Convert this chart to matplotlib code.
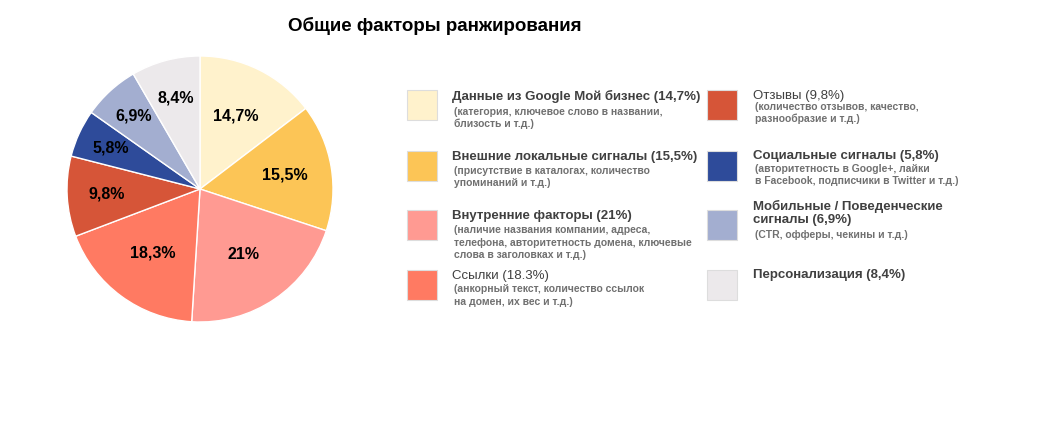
import matplotlib.pyplot as plt
from matplotlib.patches import Rectangle

plt.rcParams['font.family'] = ['Liberation Sans', 'DejaVu Sans']

# Data
shares = [14.7, 15.5, 21, 18.3, 9.8, 5.8, 6.9, 8.4]
pct_labels = ["14,7%", "15,5%", "21%", "18,3%", "9,8%", "5,8%", "6,9%", "8,4%"]
colors = ["#FFF2CC", "#FCC556", "#FF9A92", "#FF7A62", "#D65538", "#2E4B9A", "#A3AED0", "#ECE9EB"]

headings = [
    ["Данные из Google Мой бизнес (14,7%)"],
    ["Внешние локальные сигналы (15,5%)"],
    ["Внутренние факторы (21%)"],
    ["Ссылки (18.3%)"],
    ["Отзывы (9,8%)"],
    ["Социальные сигналы (5,8%)"],
    ["Мобильные / Поведенческие", "сигналы (6,9%)"],
    ["Персонализация (8,4%)"],
]
details = [
    ["(категория, ключевое слово в названии,", "близость и т.д.)"],
    ["(присутствие в каталогах, количество", "упоминаний и т.д.)"],
    ["(наличие названия компании, адреса,", "телефона, авторитетность домена, ключевые", "слова в заголовках и т.д.)"],
    ["(анкорный текст, количество ссылок", "на домен, их вес и т.д.)"],
    ["(количество отзывов, качество,", "разнообразие и т.д.)"],
    ["(авторитетность в Google+, лайки", "в Facebook, подписчики в Twitter и т.д.)"],
    ["(CTR, офферы, чекины и т.д.)"],
    [],
]

W, H = 1040, 440


def px(x, y):
    return x / W, 1 - y / H


fig = plt.figure(figsize=(W / 100, H / 100), dpi=100)
fig.patch.set_facecolor("white")

fig.text(*px(435, 26), "Общие факторы ранжирования", ha="center", va="center",
         fontsize=13.5, fontweight="bold", color="black")

# Pie
ax = fig.add_axes([67 / W, (H - 322) / H, 266 / W, 266 / H])
wedges, texts, autotexts = ax.pie(
    shares, colors=colors, startangle=90, counterclock=False,
    labels=None, autopct="%1.1f", pctdistance=1.0,
    wedgeprops=dict(edgecolor="white", linewidth=1),
)
# label distance from centre, per slice (small slices sit further out)
label_dist = [0.61, 0.65, 0.59, 0.60, 0.70, 0.74, 0.74, 0.71]
for t, lab, d in zip(autotexts, pct_labels, label_dist):
    x, y = t.get_position()
    t.set_position((x * d, y * d))
    t.set_text(lab)
    t.set_fontsize(11.5)
    t.set_fontweight("bold")
    t.set_color("black")
ax.set_aspect("equal")
ax.set_xlim(-1, 1)
ax.set_ylim(-1, 1)

# Legend (manual layout)
col_x = [407, 707]
row_y = [90, 151, 210, 270]
text_dx = [45, 46]
head_y = [[96], [157], [216], [276], [96], [156], [206, 220], [275]]
det_y = [[112, 124], [171, 183], [230, 243, 255], [289, 302], [107, 119], [169, 181], [235], []]
head_bold = [True, True, True, False, False, True, True, True]

for i in range(len(headings)):
    c = i // 4
    r = i % 4
    x0 = col_x[c]
    y0 = row_y[r]
    sx, sy = px(x0, y0 + 30)
    fig.patches.append(Rectangle((sx, sy), 30 / W, 30 / H, transform=fig.transFigure,
                                 facecolor=colors[i], edgecolor="#DDDDDD", linewidth=0.8))
    tx = x0 + text_dx[c]
    for line, yy in zip(headings[i], head_y[i]):
        fig.text(*px(tx, yy), line, ha="left", va="center", fontsize=9.5,
                 fontweight="bold" if head_bold[i] else "normal", color="#404040")
    for line, yy in zip(details[i], det_y[i]):
        fig.text(*px(tx + 2, yy), line, ha="left", va="center", fontsize=7.5,
                 fontweight="bold", color="#707070")

fig.savefig("out.png", dpi=100)
